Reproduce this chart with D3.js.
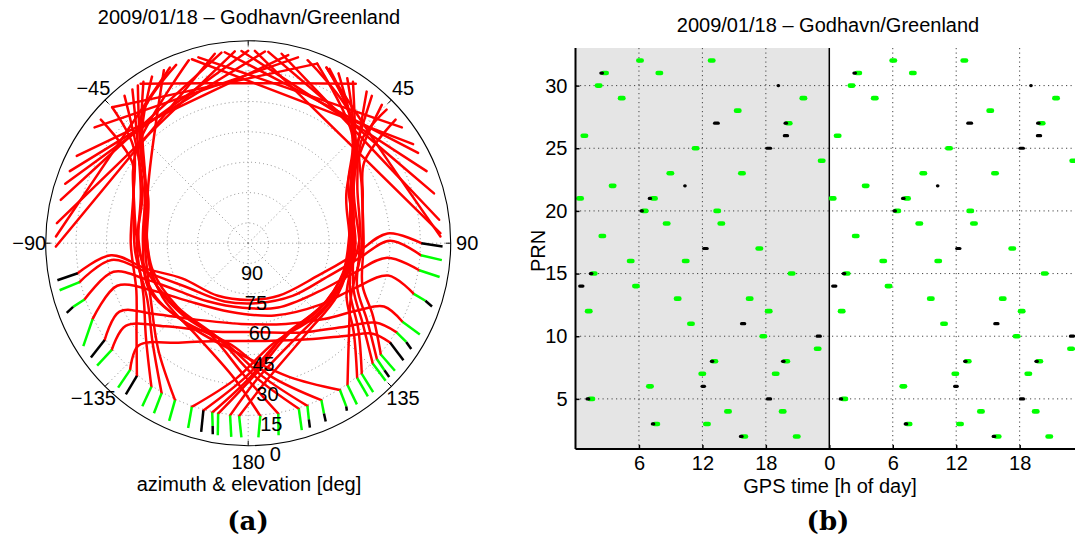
<!DOCTYPE html>
<html>
<head>
<meta charset="utf-8">
<script src="https://cdn.jsdelivr.net/npm/d3@7"></script>
<style>
  body { margin: 0; background: #fff; }
  text { font-family: "Liberation Sans", Arial, sans-serif; fill: #000; }
</style>
</head>
<body>
<svg id="fig" width="1075" height="543"></svg>
<script>
// ---- data: sky plot (a) ----
const titleText = "2009/01/18 \u2013 Godhavn/Greenland";
const azLabels = [[-45, "\u221245"], [45, "45"], [-90, "\u221290"], [90, "90"], [-135, "\u2212135"], [135, "135"], [180, "180"]];
const azSpokes = [0, 45, 90, 135, 180, 225, 270, 315];
const elRings = [15, 30, 45, 60, 75, 90];
const elLabels = [90, 75, 60, 45, 30, 15, 0];

// satellite tracks, [azimuth, elevation] in degrees (red part)
// passes rising in the west, culminating in the south, setting in the east
const tracksSouth = [
  [[-100,14.5],[-95,32],[-104,48],[-118,63],[-150,70],[180,72],[150,70],[115,62],[96,47],[86,31],[90,14.5]],
  [[-103,14.5],[-97,32],[-107,49],[-124,62],[-158,69],[170,70],[140,66],[112,57],[98,45],[89,30],[94,14.5]],
  [[-109,14.5],[-102,32],[-110,47],[-122,57],[-145,65],[-175,68],[155,65],[125,58],[106,46],[96,31],[99,14.5]],
  [[-116,14.5],[-108,32],[-116,47],[-132,58],[-165,65],[160,62],[130,53],[113,43],[103,29],[107,14.5]],
  [[-124,14.5],[-118,28],[-127,42],[-145,54],[-175,60],[155,56],[135,47],[121,36],[115,26],[117,14.5]],
  [[-128,14.5],[-124,27],[-135,42],[-158,53],[175,56],[150,49],[132,38],[122,26],[121,14.5]],
  [[-137,14.5],[-133,26],[-145,40],[-165,50],[170,51],[148,44],[133,33],[126,24],[125,14.5]]
];
// passes from the southern horizon up the west side to the north
const tracksWest = [
  [[-140,14.5],[-128,30],[-113,40],[-90,42],[-66,38],[-50,26],[-45,5]],
  [[-146,14.5],[-133,31],[-117,42],[-90,45],[-62,41],[-40,5]],
  [[-150,14.5],[-136,32],[-119,43],[-94,44],[-68,39],[-55,30],[-50,5]],
  [[-155,14.5],[-140,31],[-121,44],[-91,49],[-58,40],[-42,22],[-30,5]],
  [[-212,14.5],[-197,31],[-176,45],[-146,50],[-118,47],[-90,46],[-64,41],[-37,5]],
  [[-205,14.5],[-190,33],[-171,49],[-140,50],[-115,46],[-90,48],[-63,43],[-44,24],[-33,5]],
  [[-200,14.5],[-186,34],[-166,50],[-137,52],[-112,50],[-88,50],[-60,43],[-26,5]],
  [[-197,14.5],[-183,34],[-162,51],[-132,53],[-106,51],[-82,49],[-58,40],[-40,18],[-22,5]],
  [[-190,14.5],[-178,35],[-158,51],[-128,52],[-100,47],[-70,40],[-50,28],[-18,5]],
  [[-184,14.5],[-174,33],[-150,48],[-122,50],[-95,50],[-66,46],[-52,33],[-35,5]]
];
// passes from the southern horizon up the east side to the north
const tracksEast = [
  [[130,14.5],[120,29],[110,40],[90,43],[65,38],[48,25],[46,5]],
  [[132,14.5],[123,30],[112,42],[91,45],[62,41],[38,5]],
  [[134,14.5],[125,31],[114,43],[89,48],[58,39],[41,21],[31,5]],
  [[139,14.5],[128,31],[116,44],[92,49],[62,42],[40,21],[25,5]],
  [[141,14.5],[130,32],[118,45],[90,47],[60,43],[44,26],[21,5]],
  [[145,14.5],[133,32],[117,43],[94,44],[68,39],[55,30],[50,5]],
  [[199,14.5],[185,33],[166,49],[137,51],[113,50],[90,50],[62,45],[40,5]],
  [[195,14.5],[181,34],[161,50],[133,52],[108,51],[86,50],[58,40],[40,20],[18,5]],
  [[192,14.5],[179,34],[159,51],[130,52],[104,48],[88,45],[64,40],[48,28],[28,5]],
  [[190,14.5],[177,35],[156,51],[126,52],[100,50],[72,47],[52,33],[33,5]],
  [[186,14.5],[176,33],[152,48],[124,50],[96,48],[68,44],[54,34],[44,5]],
  [[183,14.5],[172,32],[147,47],[120,49],[94,49],[64,44],[42,22],[24,5]]
];
// passes across the northern sky
const tracksNorth = [
  [[53,5],[19,21.2],[-15,5]],
  [[59,5],[21,25.1],[-17,5]],
  [[62,5],[27.5,21.7],[-7,5]],
  [[68,5],[33,22.2],[-2,5]],
  [[75,5],[40.5,21.7],[6,5]],
  [[83,5],[46.5,23.6],[10,5]],
  [[87,5],[44.5,29.9],[2,5]],
  [[88,5],[56,20],[24,5]],
  [[-53,5],[-19,21.2],[15,5]],
  [[-63,5],[-25.5,24.6],[12,5]],
  [[-68,5],[-31.5,23.6],[5,5]],
  [[-72,5],[-36,23.1],[0,5]],
  [[-77,5],[-42.5,21.7],[-8,5]],
  [[-84,5],[-44,27.2],[-4,5]],
  [[-91,5],[-50.5,27.8],[-10,5]],
  [[-88,5],[-56,19.4],[-24,5]],
  [[-34,5],[0,21],[34,5]],
  [[-45,5],[-12,20.4],[21,5]]
];
// low-elevation ends: [colour, az1, el1, az2, el2]
const tails = [
  ["k",-100,14.5,-101,4],["k",90,14.5,91,4],
  ["g",-103,14.5,-104,4],["g",94,14.5,95,4],
  ["g",-109,14.5,-110,8],["k",-110,8,-111,4],["g",99,14.5,100,4],
  ["g",-116,14.5,-122,4],["g",107,14.5,108,8],["k",108,8,109,4],
  ["k",-124,14.5,-126,4],["g",117,14.5,118,4],
  ["g",-128,14.5,-129,4],["g",121,14.5,122,8],["k",122,8,123,4],
  ["g",-137,14.5,-138,4],["k",125,14.5,127,4],
  ["k",-140,14.5,-141,4],["g",-146,14.5,-147,4],["g",-150,14.5,-151,4],["g",-155,14.5,-156,4],
  ["g",-212,14.5,-211,6],["k",-211,6,-210.5,4],
  ["g",-205,14.5,-204,8],["k",-204,8,-203.5,4],
  ["g",-200,14.5,-199,8],["k",-199,8,-198.5,4],
  ["g",-197,14.5,-196,4],["g",-190,14.5,-189,4],["g",-184,14.5,-183,4],
  ["g",130,14.5,131,4],["g",132,14.5,133,8],["k",133,8,133.5,4],["g",134,14.5,135,4],
  ["g",139,14.5,140,4],["g",141,14.5,142,4],["g",145,14.5,146,4],
  ["g",199,14.5,198,4],["k",195,14.5,194,4],["g",192,14.5,191,8],["k",191,8,190.5,4],
  ["g",190,14.5,189,4],["g",186,14.5,185,4],["g",183,14.5,182,4]
];

// ---- data: visibility plot (b) ----
const prnTicks = [5, 10, 15, 20, 25, 30];
const hourTicks = [6, 12, 18, 24, 30, 36, 42];
const hourLabels = ["6", "12", "18", "0", "6", "12", "18"];
// [PRN, hour]
const greenMarks = [
  [32,6.1],[32,12.88],[31,2.79],[31,7.93],[30,2.19],[29,4.37],[29,21.55],[28,15.34],[27,20.16],
  [26,0.84],[25,11.36],[24,23.28],[23,8.97],[23,15.74],[22,3.51],[21,0.43],[21,7.42],[20,6.54],
  [20,13.4],[19,8.62],[19,13.79],[18,2.54],[17,17.38],[16,5.22],[16,10.42],[15,1.72],[15,20.44],
  [14,5.72],[13,9.66],[13,16.47],[12,1.25],[12,18.27],[11,10.92],[10,17.76],[9,22.9],[8,13.13],
  [8,19.93],[7,11.99],[7,18.93],[6,7.04],[5,1.5],[4,14.42],[4,19.59],[3,7.64],[3,12.43],
  [2,15.96],[2,20.92],
  [32,30.05],[32,36.77],[31,26.74],[31,31.9],[30,26.1],[29,28.3],[29,45.44],[28,39.22],[27,44.08],
  [26,24.79],[25,35.32],[24,47.07],[23,32.89],[23,39.67],[22,27.44],[21,24.32],[21,31.35],[20,30.43],
  [20,37.33],[19,32.51],[19,37.68],[18,26.5],[17,41.3],[16,29.1],[16,34.3],[15,25.64],[15,44.37],
  [14,29.6],[13,33.6],[13,40.4],[12,25.17],[12,42.19],[11,34.85],[10,41.72],[9,46.86],[8,37.09],
  [8,43.86],[7,35.92],[7,42.82],[6,31.0],[5,25.42],[4,38.34],[4,43.52],[3,31.5],[3,36.36],
  [2,39.92],[2,44.8]
];
// [PRN, start hour, end hour]
const blackMarks = [
  [31,2.4,2.55],[30,19.16,19.2],[27,13.15,13.5],[27,19.82,19.95],[26,19.75,20.05],[25,18.1,18.45],
  [22,10.33,10.37],[21,6.98,7.1],[20,6.2,6.32],[17,12.12,12.45],[15,1.4,1.55],[14,0.4,0.7],
  [11,15.7,16.0],[10,22.85,23.15],[8,12.85,12.98],[8,19.58,19.72],[6,11.97,12.2],[5,1.1,1.25],
  [5,18.15,18.45],[3,7.27,7.4],[2,15.6,15.75],
  [31,26.33,26.47],[30,43.05,43.09],[27,37.1,37.45],[27,43.7,43.83],[26,43.68,43.98],[25,42.03,42.36],
  [22,34.23,34.27],[21,30.93,31.07],[20,30.12,30.25],[17,36.05,36.35],[15,25.32,25.46],[14,24.32,24.62],
  [11,39.65,39.95],[10,46.8,47.1],[8,36.8,36.93],[8,43.54,43.67],[6,35.85,36.1],[5,25.03,25.17],
  [5,42.07,42.37],[3,31.18,31.32],[2,39.5,39.64]
];

const svg = d3.select("#fig");
const colors = { g: "#00ff00", k: "#000000" };

// ================= (a) polar sky plot =================
const cx = 248.2, cy = 243.2, R = 202.5;
const rScale = d3.scaleLinear().domain([100, 0]).range([0, R]);
const azScale = d3.scaleLinear().domain([0, 360]).range([0, 2 * Math.PI]);

const polar = svg.append("g").attr("transform", `translate(${cx},${cy})`);

// dotted grid
polar.selectAll("circle.ring").data(elRings).enter().append("circle")
  .attr("r", d => rScale(d))
  .attr("fill", "none").attr("stroke", "#8c8c8c")
  .attr("stroke-width", 1).attr("stroke-dasharray", "1,3");
polar.selectAll("line.spoke").data(azSpokes).enter().append("line")
  .attr("x1", 0).attr("y1", 0)
  .attr("x2", d => d3.pointRadial(azScale(d), R)[0])
  .attr("y2", d => d3.pointRadial(azScale(d), R)[1])
  .attr("stroke", "#8c8c8c").attr("stroke-width", 1).attr("stroke-dasharray", "1,3");

// outer circle and ticks
polar.append("circle").attr("r", R).attr("fill", "none").attr("stroke", "#000").attr("stroke-width", 1.1);
polar.selectAll("line.tick").data(azSpokes).enter().append("line")
  .attr("x1", d => d3.pointRadial(azScale(d), R)[0])
  .attr("y1", d => d3.pointRadial(azScale(d), R)[1])
  .attr("x2", d => d3.pointRadial(azScale(d), R - 5)[0])
  .attr("y2", d => d3.pointRadial(azScale(d), R - 5)[1])
  .attr("stroke", "#000").attr("stroke-width", 1);

// tracks
const trackLine = d3.lineRadial()
  .angle(d => azScale(d[0]))
  .radius(d => rScale(d[1]))
  .curve(d3.curveCatmullRom.alpha(0.5));

const allTracks = tracksNorth.concat(tracksWest, tracksEast, tracksSouth);
polar.append("g").selectAll("path").data(allTracks).enter().append("path")
  .attr("d", trackLine)
  .attr("fill", "none").attr("stroke", "#ff0000")
  .attr("stroke-width", 2.5).attr("stroke-linecap", "round").attr("stroke-linejoin", "round");

polar.append("g").selectAll("path").data(tails).enter().append("path")
  .attr("d", d => trackLine([[d[1], d[2]], [d[3], d[4]]]))
  .attr("fill", "none").attr("stroke", d => colors[d[0]])
  .attr("stroke-width", 2.5).attr("stroke-linecap", "butt");

// labels
polar.selectAll("text.az").data(azLabels).enter().append("text")
  .attr("x", d => d3.pointRadial(azScale(d[0]), 219)[0])
  .attr("y", d => d3.pointRadial(azScale(d[0]), 219)[1])
  .attr("text-anchor", "middle").attr("dominant-baseline", "central")
  .style("font-size", "20px").text(d => d[1]);
polar.selectAll("text.el").data(elLabels).enter().append("text")
  .attr("x", d => d3.pointRadial(azScale(172.7), rScale(d) + 10)[0])
  .attr("y", d => d3.pointRadial(azScale(172.7), rScale(d) + 10)[1])
  .attr("text-anchor", "middle").attr("dominant-baseline", "central")
  .style("font-size", "20px").text(d => d);

svg.append("text").attr("x", 249).attr("y", 24).attr("text-anchor", "middle")
  .style("font-size", "20px").text(titleText);
svg.append("text").attr("x", 249).attr("y", 491).attr("text-anchor", "middle")
  .style("font-size", "20px").text("azimuth & elevation [deg]");

// ================= (b) visibility chart =================
const x = d3.scaleLinear().domain([0, 48]).range([575.5, 1083.1]);
const y = d3.scaleLinear().domain([1, 33]).range([449, 48]);
const plot = svg.append("g");

plot.append("rect")
  .attr("x", x(0)).attr("y", y(33))
  .attr("width", x(24) - x(0)).attr("height", y(1) - y(33))
  .attr("fill", "#e5e5e5");

// grid
plot.selectAll("line.gy").data(prnTicks).enter().append("line")
  .attr("x1", x(0)).attr("x2", 1075).attr("y1", d => y(d)).attr("y2", d => y(d))
  .attr("stroke", "#444").attr("stroke-width", 1).attr("stroke-dasharray", "1.2,3.3");
plot.selectAll("line.gx").data(hourTicks.filter(h => h !== 24)).enter().append("line")
  .attr("x1", d => x(d)).attr("x2", d => x(d)).attr("y1", y(33)).attr("y2", y(1))
  .attr("stroke", "#444").attr("stroke-width", 1).attr("stroke-dasharray", "1.2,3.3");
plot.append("line")
  .attr("x1", x(24)).attr("x2", x(24)).attr("y1", y(33)).attr("y2", y(1))
  .attr("stroke", "#000").attr("stroke-width", 1.5);

// marks
plot.append("g").selectAll("line").data(greenMarks).enter().append("line")
  .attr("x1", d => x(d[1] - 0.16)).attr("x2", d => x(d[1] + 0.16))
  .attr("y1", d => y(d[0])).attr("y2", d => y(d[0]))
  .attr("stroke", colors.g).attr("stroke-width", 4.6).attr("stroke-linecap", "round");
plot.append("g").selectAll("line").data(blackMarks).enter().append("line")
  .attr("x1", d => x(d[1])).attr("x2", d => x(d[2]))
  .attr("y1", d => y(d[0])).attr("y2", d => y(d[0]))
  .attr("stroke", colors.k).attr("stroke-width", 3.2).attr("stroke-linecap", "round");

// axes
const xAxis = d3.axisBottom(x).tickValues(hourTicks).tickSize(-4).tickPadding(7)
  .tickFormat((d, i) => hourLabels[i]);
const gx = plot.append("g").attr("transform", `translate(0,${y(1)})`).call(xAxis);
const yAxis = d3.axisLeft(y).tickValues(prnTicks).tickSize(-4).tickPadding(8);
const gy = plot.append("g").attr("transform", `translate(${x(0)},0)`).call(yAxis);
[gx, gy].forEach(g => {
  g.select(".domain").attr("stroke", "#000").attr("stroke-width", 2);
  g.selectAll(".tick line").attr("stroke", "#000").attr("stroke-width", 1.5);
  g.selectAll(".tick text").style("font-size", "20px")
    .style("font-family", "'Liberation Sans', Arial, sans-serif").attr("fill", "#000");
});
gy.select(".domain").attr("d", `M0,${y(33)}V${y(1)}`);
gx.select(".domain").attr("d", `M${x(0)},0H${x(48)}`);

svg.append("text").attr("x", 828).attr("y", 32).attr("text-anchor", "middle")
  .style("font-size", "20px").text(titleText);
svg.append("text").attr("x", 830).attr("y", 493).attr("text-anchor", "middle")
  .style("font-size", "20px").text("GPS time [h of day]");
svg.append("text").attr("transform", "translate(545,251) rotate(-90)").attr("text-anchor", "middle")
  .style("font-size", "20px").text("PRN");

// captions
svg.append("text").attr("x", 248).attr("y", 530).attr("text-anchor", "middle")
  .style("font-family", "'DejaVu Serif', serif").style("font-weight", "bold").style("font-size", "26px").text("(a)");
svg.append("text").attr("x", 828).attr("y", 530).attr("text-anchor", "middle")
  .style("font-family", "'DejaVu Serif', serif").style("font-weight", "bold").style("font-size", "26px").text("(b)");
</script>
</body>
</html>
